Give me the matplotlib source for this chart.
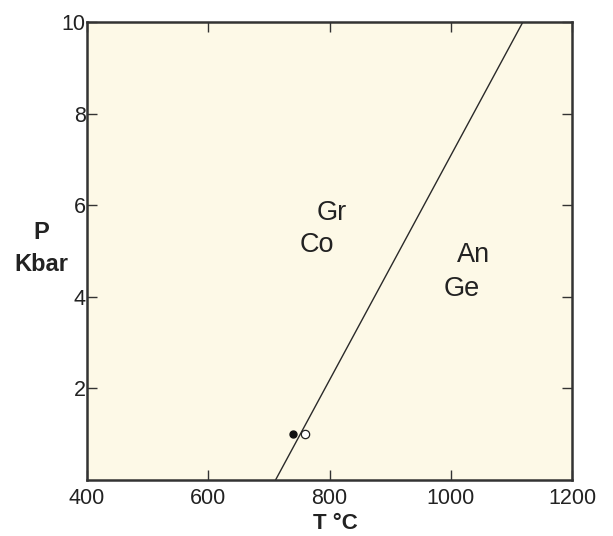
import matplotlib
matplotlib.use("Agg")
import matplotlib.pyplot as plt

plt.rcParams['font.family'] = ['Liberation Sans', 'DejaVu Sans']

# Reaction boundary (T in °C, P in kbar)
boundary_T = [711, 1119]
boundary_P = [0, 10]

# Experimental points
filled_T = [740]
filled_P = [1.0]
open_T = [760]
open_P = [1.0]

# Assemblage labels
field_labels = ["Gr", "Co", "An", "Ge"]
field_T = [804, 779, 1037, 1018]
field_P = [5.83, 5.13, 4.91, 4.17]

x_ticks = [400, 600, 800, 1000, 1200]
y_ticks = [2, 4, 6, 8, 10]

fig = plt.figure(figsize=(6.13, 5.36), dpi=100)
ax = fig.add_axes([87 / 613, 1 - 480 / 536, 485 / 613, 458 / 536])
ax.set_facecolor('#fdf9e7')

ax.plot(boundary_T, boundary_P, color='#2a2a2a', lw=1.0)
ax.plot(filled_T, filled_P, 'o', ms=5, color='#111111')
ax.plot(open_T, open_P, 'o', ms=6, mfc='white', mec='#222222', mew=0.9)

for lab, t, p in zip(field_labels, field_T, field_P):
    ax.text(t, p, lab, fontsize=19.5, ha='center', va='center', color='#222222')

ax.set_xlim(400, 1200)
ax.set_ylim(0, 10)
ax.set_xticks(x_ticks)
ax.set_yticks(y_ticks)
ax.tick_params(direction='in', length=7, width=1, colors='#333333',
               labelcolor='#222222', labelsize=15.5, top=True, right=True)
ax.tick_params(axis='x', pad=6)
ax.tick_params(axis='y', pad=1)
for s in ax.spines.values():
    s.set_linewidth(1.8)
    s.set_color('#333333')

ax.set_xlabel('T °C', fontsize=16, fontweight='bold', color='#222222')
ax.xaxis.set_label_coords(0.512, -0.073)
ax.set_ylabel('P\nKbar', fontsize=17, fontweight='bold', rotation=0,
              ha='center', va='center', color='#222222', linespacing=1.5)
ax.yaxis.set_label_coords(-0.095, 0.505)

fig.savefig('out.png', dpi=100)
